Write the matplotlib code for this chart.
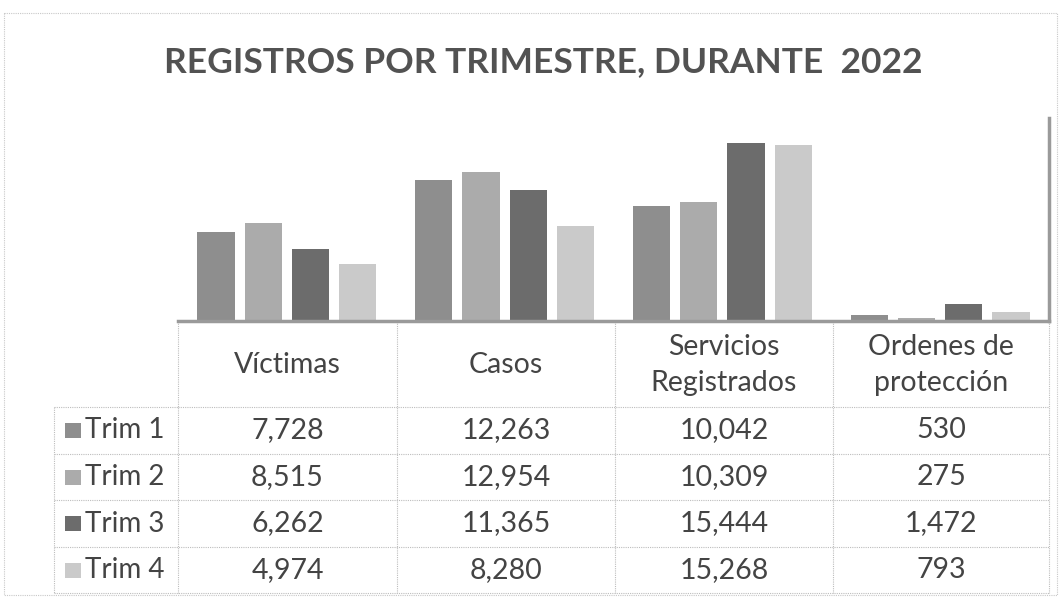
import matplotlib
matplotlib.use("Agg")
import matplotlib.pyplot as plt
from matplotlib.patches import Rectangle

# data
categories = ["Víctimas", "Casos", "Servicios\nRegistrados", "Ordenes de\nprotección"]
series = ["Trim 1", "Trim 2", "Trim 3", "Trim 4"]
trim1 = [7728, 12263, 10042, 530]
trim2 = [8515, 12954, 10309, 275]
trim3 = [6262, 11365, 15444, 1472]
trim4 = [4974, 8280, 15268, 793]
values = [trim1, trim2, trim3, trim4]
colors = ["#8e8e8e", "#ababab", "#6c6c6c", "#cacaca"]

W, H = 1063, 598
fig = plt.figure(figsize=(W / 100, H / 100), dpi=100)
plt.rcParams['font.family'] = ['Lato', 'DejaVu Sans']

# plot area (pixel geometry of the reference)
px_left, px_right, px_top, px_base = 178, 1049, 118, 321
ax = fig.add_axes([px_left / W, 1 - px_base / H, (px_right - px_left) / W, (px_base - px_top) / H])
step = 0.217
width = 0.172
for k, (vals, col) in enumerate(zip(values, colors)):
    xs = [i + (k - 1.5) * step for i in range(len(categories))]
    ax.bar(xs, vals, width=width, color=col, zorder=2)
ax.set_xlim(-0.5, len(categories) - 0.5)
ax.set_ylim(0, 17650)
ax.set_xticks([])
ax.set_yticks([])
for s in ["top", "left"]:
    ax.spines[s].set_visible(False)
ax.spines["bottom"].set_color("#9a9a9a")
ax.spines["bottom"].set_linewidth(2.5)
ax.spines["right"].set_color("#9a9a9a")
ax.spines["right"].set_linewidth(2.5)

# overlay in pixel coordinates for the title, frame and the data table
ov = fig.add_axes([0, 0, 1, 1], zorder=-1)
ov.set_xlim(0, W)
ov.set_ylim(H, 0)
ov.axis("off")
ov.add_patch(Rectangle((4, 13), W - 10, H - 16, fill=False, ec="#c8c8c8", lw=0.8, ls=(0, (1, 1))))

ov.text(543, 72, "REGISTROS POR TRIMESTRE, DURANTE  2022", ha="center", va="baseline",
        fontsize=25.5, fontweight="bold", color="#525252")

grid = dict(color="#bdbdbd", lw=0.8, ls=(0, (1, 1)))
col_edges = [178, 397, 615, 833, 1049]
row_edges = [407, 454, 500, 547, 593]
leg_left = 54

# horizontal lines
ov.plot([col_edges[0], col_edges[-1]], [row_edges[0], row_edges[0]], **grid)
for y in row_edges[1:]:
    ov.plot([leg_left, col_edges[-1]], [y, y], **grid)
ov.plot([leg_left, col_edges[0]], [row_edges[0], row_edges[0]], **grid)
# vertical lines
for x in col_edges:
    ov.plot([x, x], [px_base, row_edges[-1]], **grid)
ov.plot([leg_left, leg_left], [row_edges[0], row_edges[-1]], **grid)

txt_color = "#444444"
fs = 20.5
for i, cat in enumerate(categories):
    cx = (col_edges[i] + col_edges[i + 1]) / 2
    ov.text(cx, (px_base + row_edges[0]) / 2 + 1, cat, ha="center", va="center",
            fontsize=fs, color=txt_color, linespacing=1.45)
    for k in range(len(series)):
        cy = (row_edges[k] + row_edges[k + 1]) / 2
        ov.text(cx, cy, f"{values[k][i]:,}", ha="center", va="center", fontsize=fs, color=txt_color)

for k, name in enumerate(series):
    cy = (row_edges[k] + row_edges[k + 1]) / 2
    ov.add_patch(Rectangle((65, cy - 7.5), 16, 15, color=colors[k], lw=0))
    ov.text(85, cy, name, ha="left", va="center", fontsize=20, color=txt_color)

fig.savefig("out.png", dpi=100)
